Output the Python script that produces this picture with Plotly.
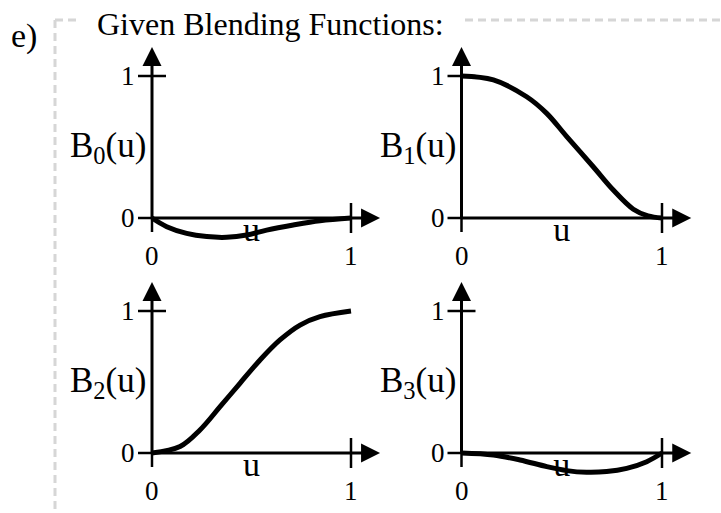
import plotly.graph_objects as go

# Sampled blending-function curves (u, B(u))
b0_u = [0, 0.074, 0.174, 0.275, 0.375, 0.476, 0.576, 0.71, 0.844, 1.0]
b0_v = [0, -0.061, -0.108, -0.131, -0.136, -0.12, -0.085, -0.049, -0.019, 0]

b1_u = [0, 0.159, 0.325, 0.425, 0.525, 0.657, 0.757, 0.857, 0.93, 1.0]
b1_v = [1, 0.972, 0.854, 0.737, 0.573, 0.361, 0.197, 0.062, 0.015, 0]

b2_u = [0, 0.141, 0.241, 0.342, 0.442, 0.543, 0.643, 0.744, 0.844, 1.0]
b2_v = [0, 0.045, 0.162, 0.326, 0.491, 0.655, 0.796, 0.901, 0.96, 1.0]

b3_u = [0, 0.159, 0.292, 0.425, 0.525, 0.624, 0.724, 0.824, 0.924, 1.0]
b3_v = [0, -0.014, -0.049, -0.096, -0.124, -0.136, -0.131, -0.108, -0.061, 0]

curve_names = ["B<sub>0</sub>(u)", "B<sub>1</sub>(u)", "B<sub>2</sub>(u)", "B<sub>3</sub>(u)"]
curves = [(b0_u, b0_v), (b1_u, b1_v), (b2_u, b2_v), (b3_u, b3_v)]
tick_vals = [0, 1]
tick_text = ["0", "1"]
axis_label = "u"
title = "Given Blending Functions:"
part_label = "e)"

W, H = 721, 513
FONT = "Liberation Serif"
U_TIP, V_TIP = 1.146, 1.204   # where the axis arrows end, in data units

# Pixel placement of each small plot: origin, pixels per unit, and the box it owns
panels = [
    dict(ox=152, oy=218, sx=199, sy=142, box=(60, 30, 400, 262)),
    dict(ox=461.5, oy=218, sx=200.5, sy=142, box=(400, 30, 721, 262)),
    dict(ox=152, oy=453, sx=199, sy=142, box=(60, 262, 400, 513)),
    dict(ox=461.5, oy=453, sx=200.5, sy=142, box=(400, 262, 721, 513)),
]

fig = go.Figure()
annotations = []
shapes = []
layout_axes = {}

for i, (p, (cu, cv), name) in enumerate(zip(panels, curves, curve_names)):
    s = "" if i == 0 else str(i + 1)
    x0, y0, x1, y1 = p["box"]
    xr = [(x0 - p["ox"]) / p["sx"], (x1 - p["ox"]) / p["sx"]]
    yr = [(p["oy"] - y1) / p["sy"], (p["oy"] - y0) / p["sy"]]
    layout_axes["xaxis" + s] = dict(domain=[x0 / W, x1 / W], range=xr, visible=False,
                                    anchor="y" + s, fixedrange=True)
    layout_axes["yaxis" + s] = dict(domain=[1 - y1 / H, 1 - y0 / H], range=yr, visible=False,
                                    anchor="x" + s, fixedrange=True)
    xa, ya = "x" + s, "y" + s
    du, dv = 1 / p["sx"], 1 / p["sy"]   # one pixel in data units

    # axis name under the horizontal axis (drawn beneath the curve)
    fig.add_trace(go.Scatter(x=[0.5], y=[-0.1], mode="text", text=[axis_label],
                             textfont=dict(family=FONT, size=34, color="black"),
                             xaxis=xa, yaxis=ya, hoverinfo="skip", showlegend=False,
                             cliponaxis=False))
    # the blending curve
    fig.add_trace(go.Scatter(x=cu, y=cv, mode="lines",
                             line=dict(color="black", width=5, shape="spline", smoothing=1),
                             xaxis=xa, yaxis=ya, hoverinfo="skip", showlegend=False))
    # arrowheads on both axes
    fig.add_trace(go.Scatter(x=[0, U_TIP], y=[V_TIP, 0], mode="markers",
                             marker=dict(symbol=["arrow-up", "arrow-right"], size=19,
                                         color="black", line=dict(width=0)),
                             xaxis=xa, yaxis=ya, hoverinfo="skip", showlegend=False,
                             cliponaxis=False))

    axis_line = dict(color="black", width=3)
    tick_line = dict(color="black", width=2.5)
    shapes += [
        # vertical and horizontal axis lines
        dict(type="line", xref=xa, yref=ya, x0=0, x1=0, y0=0, y1=V_TIP - 10 * dv,
             line=axis_line),
        dict(type="line", xref=xa, yref=ya, x0=0, x1=U_TIP - 10 * du, y0=0, y1=0,
             line=axis_line),
        # tick marks
        dict(type="line", xref=xa, yref=ya, x0=-14 * du, x1=14 * du, y0=1, y1=1,
             line=tick_line),
        dict(type="line", xref=xa, yref=ya, x0=-14 * du, x1=0, y0=0, y1=0,
             line=tick_line),
        dict(type="line", xref=xa, yref=ya, x0=0, x1=0, y0=0, y1=-14 * dv,
             line=tick_line),
        dict(type="line", xref=xa, yref=ya, x0=1, x1=1, y0=15 * dv, y1=-15 * dv,
             line=tick_line),
    ]
    # tick labels
    for v, t in zip(tick_vals, tick_text):
        annotations.append(dict(xref=xa, yref=ya, x=-15 * du, y=v, text=t,
                                showarrow=False, xanchor="right", yanchor="middle",
                                font=dict(family=FONT, size=27, color="black")))
        annotations.append(dict(xref=xa, yref=ya, x=v, y=-38 * dv, text=t,
                                showarrow=False, xanchor="center", yanchor="middle",
                                font=dict(family=FONT, size=27, color="black")))
    # function name beside the vertical axis
    annotations.append(dict(xref=xa, yref=ya, x=-4 * du, y=0.5, text=name,
                            showarrow=False, xanchor="right", yanchor="middle",
                            font=dict(family=FONT, size=35, color="black")))

# heading and part label
annotations.append(dict(xref="paper", yref="paper", x=95 / W, y=1 - 24 / H, text=title,
                        showarrow=False, xanchor="left", yanchor="middle",
                        font=dict(family=FONT, size=32, color="black")))
annotations.append(dict(xref="paper", yref="paper", x=9 / W, y=1 - 36 / H, text=part_label,
                        showarrow=False, xanchor="left", yanchor="middle",
                        font=dict(family=FONT, size=34, color="black")))

# dashed frame around the group
frame = dict(color="#d6d6d6", width=3, dash="8px,5px")
shapes += [
    dict(type="line", xref="paper", yref="paper", x0=55 / W, x1=55 / W, y0=1 - 20 / H, y1=0,
         line=frame),
    dict(type="line", xref="paper", yref="paper", x0=55 / W, x1=76 / W, y0=1 - 20 / H,
         y1=1 - 20 / H, line=frame),
    dict(type="line", xref="paper", yref="paper", x0=465 / W, x1=1, y0=1 - 20 / H,
         y1=1 - 20 / H, line=frame),
]

fig.update_layout(width=W, height=H, margin=dict(l=0, r=0, t=0, b=0),
                  paper_bgcolor="white", plot_bgcolor="rgba(0,0,0,0)",
                  annotations=annotations, shapes=shapes, showlegend=False,
                  **layout_axes)

fig.write_html("out.html", config=dict(displayModeBar=False))
